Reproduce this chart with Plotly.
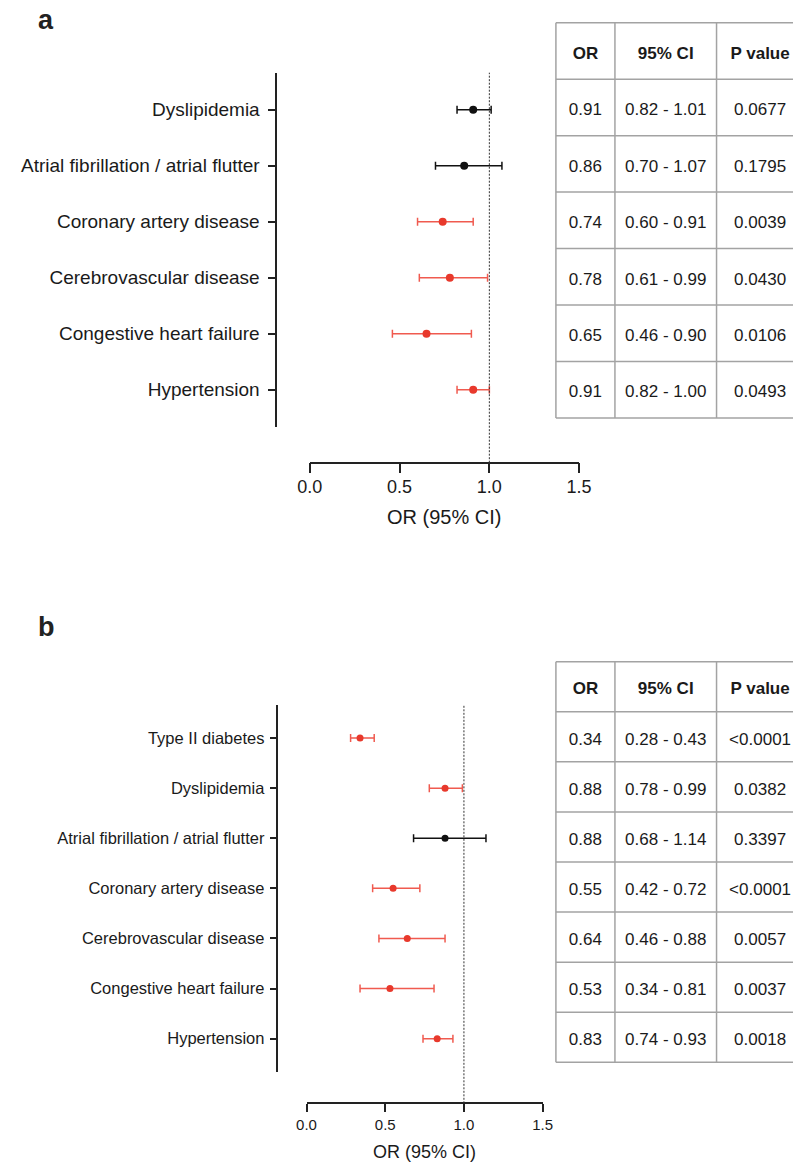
import plotly.graph_objects as go

W, H = 806, 1163

# ---------------- data ----------------
cats_a = ["Dyslipidemia", "Atrial fibrillation / atrial flutter", "Coronary artery disease",
          "Cerebrovascular disease", "Congestive heart failure", "Hypertension"]
or_a = [0.91, 0.86, 0.74, 0.78, 0.65, 0.91]
lo_a = [0.82, 0.70, 0.60, 0.61, 0.46, 0.82]
hi_a = [1.01, 1.07, 0.91, 0.99, 0.90, 1.00]
p_a = ["0.0677", "0.1795", "0.0039", "0.0430", "0.0106", "0.0493"]

cats_b = ["Type II diabetes", "Dyslipidemia", "Atrial fibrillation / atrial flutter",
          "Coronary artery disease", "Cerebrovascular disease", "Congestive heart failure",
          "Hypertension"]
or_b = [0.34, 0.88, 0.88, 0.55, 0.64, 0.53, 0.83]
lo_b = [0.28, 0.78, 0.68, 0.42, 0.46, 0.34, 0.74]
hi_b = [0.43, 0.99, 1.14, 0.72, 0.88, 0.81, 0.93]
p_b = ["<0.0001", "0.0382", "0.3397", "<0.0001", "0.0057", "0.0037", "0.0018"]

header = ["OR", "95% CI", "P value"]
x_ticks = [0.0, 0.5, 1.0, 1.5]
panel_labels = ["a", "b"]
x_title = "OR (95% CI)"

# ---------------- style ----------------
FONT = "Arial, Liberation Sans, Helvetica, sans-serif"
TXT = "#1a1a1a"
RED_M = "#e8392c"
RED_E = "#f05a4f"
BLK = "#111111"
GRID = "#a3a3a3"


def fx(p):
    return p / W


def fy(p):
    return 1 - p / H


panels = [
    dict(cats=cats_a, orv=or_a, lo=lo_a, hi=hi_a, p=p_a,
         ax=("x", "y"), tax=("x2", "y2"), names=("xaxis", "yaxis", "xaxis2", "yaxis2"),
         ydom=(72.7, 426.7), ypos=272.0, xdom=(306.7, 585.0), xpos=462.7,
         xticklen=10, yticklen=7, lab=19, tickf=18, titf=20, title_y=516.7, xstand=-2,
         msize=8, cap=4, ttop=22.7, tbot=418.0, stand=5, label_y=20.5),
    dict(cats=cats_b, orv=or_b, lo=lo_b, hi=hi_b, p=p_b,
         ax=("x3", "y3"), tax=("x4", "y4"), names=("xaxis3", "yaxis3", "xaxis4", "yaxis4"),
         ydom=(705.0, 1071.7), ypos=272.3, xdom=(303.3, 547.3), xpos=1103.3,
         xticklen=8, yticklen=6, lab=16.5, tickf=15, titf=18, title_y=1151.7, xstand=0,
         msize=7, cap=4, ttop=661.7, tbot=1062.3, stand=2, label_y=626.5),
]

fig = go.Figure()
layout = {}
annotations = []
shapes = []

# table column layout (in table-axis units = px, left edge at 0)
col_edges = [0, 61, 166, 256]
col_centers = [(col_edges[i] + col_edges[i + 1]) / 2 for i in range(3)]
TABLE_LEFT = 561.0
PAD = 2.0          # px of room around the table frame so border lines are not clipped
TEXT_DROP = 3.5    # px, optical centering of text in cells

for k, P in enumerate(panels):
    cats, orv, lo, hi, pv = P["cats"], P["orv"], P["lo"], P["hi"], P["p"]
    n = len(cats)
    sig = [float(s.replace("<", "")) < 0.05 for s in pv]
    xa, ya = P["ax"]
    for flag, mcol, ecol in [(False, BLK, BLK), (True, RED_M, RED_E)]:
        idx = [i for i in range(n) if sig[i] == flag]
        if not idx:
            continue
        fig.add_trace(go.Scatter(
            x=[orv[i] for i in idx], y=[cats[i] for i in idx],
            mode="markers", xaxis=xa, yaxis=ya, showlegend=False, hoverinfo="skip",
            marker=dict(color=mcol, size=P["msize"], line=dict(width=0)),
            error_x=dict(type="data", symmetric=False,
                         array=[round(hi[i] - orv[i], 4) for i in idx],
                         arrayminus=[round(orv[i] - lo[i], 4) for i in idx],
                         color=ecol, thickness=1.5, width=P["cap"]),
        ))

    xn, yn, txn, tyn = P["names"]
    layout[xn] = dict(
        domain=[fx(P["xdom"][0]), fx(P["xdom"][1])], anchor="free", position=fy(P["xpos"]),
        range=[0, 1.5], tickvals=x_ticks, ticktext=[f"{v:.1f}" for v in x_ticks],
        showline=True, linecolor="#222", linewidth=1.5,
        ticks="outside", ticklen=P["xticklen"], tickwidth=1.5, tickcolor="#222",
        ticklabelstandoff=P["xstand"],
        showgrid=False, zeroline=False,
        tickfont=dict(family=FONT, size=P["tickf"], color=TXT),
    )
    layout[yn] = dict(
        domain=[fy(P["ydom"][1]), fy(P["ydom"][0])], anchor="free", position=fx(P["ypos"]),
        type="category", categoryorder="array", categoryarray=cats,
        range=[n - 1 + 0.66, -0.66],
        showline=True, linecolor="#222", linewidth=1.5,
        ticks="outside", ticklen=P["yticklen"], tickwidth=1.5, tickcolor="#222",
        ticklabelstandoff=P["stand"],
        showgrid=False, zeroline=False,
        tickfont=dict(family=FONT, size=P["lab"], color=TXT),
    )

    # reference line at OR = 1
    shapes.append(dict(type="line", xref=xa, yref="paper", x0=1, x1=1,
                       y0=fy(P["xpos"]), y1=fy(P["ydom"][0]),
                       line=dict(color="#333", width=1, dash="2px,1.5px")))

    # axis title and panel label
    annotations.append(dict(text=x_title, xref="paper", yref="paper",
                            x=fx((P["xdom"][0] + P["xdom"][1]) / 2), y=fy(P["title_y"]),
                            xanchor="center", yanchor="middle", showarrow=False,
                            font=dict(family=FONT, size=P["titf"], color=TXT)))
    annotations.append(dict(text=f"<b>{panel_labels[k]}</b>", xref="paper", yref="paper",
                            x=fx(24), y=fy(P["label_y"]), xanchor="left", yanchor="middle",
                            showarrow=False, font=dict(family=FONT, size=27, color="#222")))

    # ---------------- table ----------------
    txa, tya = P["tax"]
    row_h = (P["tbot"] - P["ttop"]) / (n + 1)
    drop = TEXT_DROP / row_h
    pad_y = PAD / row_h
    x_end = W - TABLE_LEFT
    rows = [[f"{orv[i]:.2f}", f"{lo[i]:.2f} - {hi[i]:.2f}", pv[i]] for i in range(n)]
    fig.add_trace(go.Scatter(
        x=col_centers, y=[drop] * 3, text=[f"<b>{h}</b>" for h in header],
        mode="text", xaxis=txa, yaxis=tya, showlegend=False, hoverinfo="skip",
        textfont=dict(family=FONT, size=17, color=TXT)))
    fig.add_trace(go.Scatter(
        x=[c for _ in range(n) for c in col_centers],
        y=[i + 1 + drop for i in range(n) for _ in range(3)],
        text=[t for r in rows for t in r],
        mode="text", xaxis=txa, yaxis=tya, showlegend=False, hoverinfo="skip",
        textfont=dict(family=FONT, size=17, color=TXT)))
    layout[txn] = dict(
        domain=[fx(TABLE_LEFT - PAD), 1.0], anchor=tya, range=[-PAD, x_end],
        showticklabels=False, ticks="", showgrid=False, showline=False, zeroline=False,
    )
    layout[tyn] = dict(
        domain=[fy(P["tbot"] + PAD), fy(P["ttop"] - PAD)], anchor=txa,
        range=[n + 0.5 + pad_y, -0.5 - pad_y],
        showticklabels=False, ticks="", showgrid=False, showline=False, zeroline=False,
    )
    # cell borders: row boundaries and column boundaries (right side open, cut by page edge)
    for r in range(n + 2):
        shapes.append(dict(type="line", xref=txa, yref=tya, x0=0, x1=x_end,
                           y0=r - 0.5, y1=r - 0.5, line=dict(color=GRID, width=1.5)))
    for c in col_edges[:3]:
        shapes.append(dict(type="line", xref=txa, yref=tya, x0=c, x1=c,
                           y0=-0.5, y1=n + 0.5, line=dict(color=GRID, width=1.5)))

fig.update_layout(
    width=W, height=H, margin=dict(l=0, r=0, t=0, b=0),
    paper_bgcolor="white", plot_bgcolor="white", showlegend=False,
    font=dict(family=FONT, color=TXT),
    annotations=annotations, shapes=shapes, **layout,
)

fig.write_html("out.html")
